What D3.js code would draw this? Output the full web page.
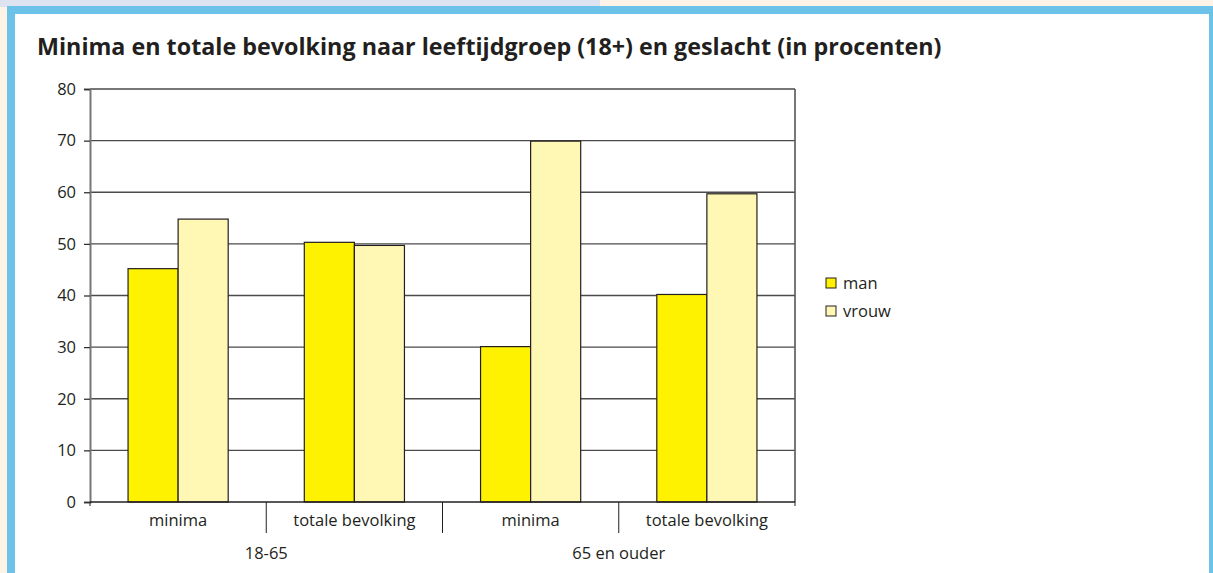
<!DOCTYPE html>
<html>
<head>
    <meta charset="utf-8">
    <title>Minima en totale bevolking</title>
    <script src="https://d3js.org/d3.v7.min.js"></script>
    <style>
        body { margin: 0; background: #fff; }
        text { font-family: "Open Sans", "Noto Sans", sans-serif; fill: #231f20; }
    </style>
</head>
<body>
    <svg width="1213" height="573" id="mainSvg"></svg>
    <script>
        // data
        const groups = ["18-65", "65 en ouder"];
        const subCats = ["minima", "totale bevolking"];
        const seriesKeys = ["man", "vrouw"];
        const manValues = [45.2, 50.3, 30.1, 40.2];
        const vrouwValues = [54.8, 49.7, 69.9, 59.7];
        const yTicks = [0, 10, 20, 30, 40, 50, 60, 70, 80];

        const colors = { man: "#fff200", vrouw: "#fff8b4" };

        const rows = [];
        groups.forEach((g, gi) => subCats.forEach((c, ci) => {
            const i = gi * subCats.length + ci;
            rows.push({ key: g + "|" + c, group: g, cat: c, man: manValues[i], vrouw: vrouwValues[i] });
        }));

        const svg = d3.select("#mainSvg");
        const labelSize = 16.5;

        // page frame
        svg.append("rect").attr("x", 0).attr("y", 0).attr("width", 1213).attr("height", 573).attr("fill", "#fdf3e7");
        svg.append("rect").attr("x", 0).attr("y", 0).attr("width", 600).attr("height", 7).attr("fill", "#dde3f1");
        svg.append("rect").attr("x", 7).attr("y", 6).attr("width", 1206).attr("height", 567).attr("fill", "#6dc2ea");
        svg.append("rect").attr("x", 15).attr("y", 14).attr("width", 1194).attr("height", 559).attr("fill", "#fff");

        svg.append("text")
            .attr("x", 37).attr("y", 55)
            .attr("font-size", 23.3).attr("font-weight", "bold")
            .text("Minima en totale bevolking naar leeftijdgroep (18+) en geslacht (in procenten)");

        const plot = { left: 90, right: 795, top: 89, bottom: 502 };

        const x = d3.scaleBand().domain(rows.map(d => d.key)).range([plot.left, plot.right]);
        const xSeries = d3.scaleBand().domain(seriesKeys).range([0, x.bandwidth()]).paddingInner(0).paddingOuter(0.76);
        const y = d3.scaleLinear().domain([0, 80]).range([plot.bottom, plot.top]);

        // gridlines
        svg.append("g").selectAll("line")
            .data(yTicks.filter(t => t > 0))
            .join("line")
            .attr("x1", plot.left).attr("x2", plot.right)
            .attr("y1", d => y(d)).attr("y2", d => y(d))
            .attr("stroke", "#4a4a4a").attr("stroke-width", 1.3);

        // right frame
        svg.append("line").attr("x1", plot.right).attr("x2", plot.right).attr("y1", plot.top).attr("y2", plot.bottom)
            .attr("stroke", "#555").attr("stroke-width", 1.6);

        // y axis
        const yAxis = svg.append("g")
            .attr("transform", `translate(${plot.left},0)`)
            .call(d3.axisLeft(y).tickValues(yTicks).tickSize(6).tickPadding(8));
        yAxis.select(".domain").attr("stroke", "#777").attr("stroke-width", 2);
        yAxis.selectAll(".tick line").attr("stroke", "#333").attr("stroke-width", 1.3);
        yAxis.selectAll(".tick text").attr("font-size", labelSize).attr("fill", "#231f20")
            .attr("font-family", "'Open Sans', 'Noto Sans', sans-serif");

        // bars
        svg.append("g").selectAll("g")
            .data(rows)
            .join("g")
            .attr("transform", d => `translate(${x(d.key)},0)`)
            .selectAll("rect")
            .data(d => seriesKeys.map(k => ({ k: k, v: d[k] })))
            .join("rect")
            .attr("x", d => xSeries(d.k))
            .attr("y", d => y(d.v))
            .attr("width", xSeries.bandwidth())
            .attr("height", d => plot.bottom - y(d.v))
            .attr("fill", d => colors[d.k])
            .attr("stroke", "#231f20").attr("stroke-width", 1.2);

        // x axis baseline
        svg.append("line").attr("x1", plot.left).attr("x2", plot.right).attr("y1", plot.bottom).attr("y2", plot.bottom)
            .attr("stroke", "#231f20").attr("stroke-width", 1.3);

        // category separators
        const edges = rows.map(d => x(d.key)).concat([plot.right]);
        svg.append("g").selectAll("line")
            .data(edges)
            .join("line")
            .attr("x1", d => d).attr("x2", d => d)
            .attr("y1", plot.bottom)
            .attr("y2", (d, i) => (i === 0 || i === edges.length - 1) ? plot.bottom + 4 : plot.bottom + 31)
            .attr("stroke", "#231f20").attr("stroke-width", 1);

        // category labels
        svg.append("g").selectAll("text")
            .data(rows)
            .join("text")
            .attr("x", d => x(d.key) + x.bandwidth() / 2)
            .attr("y", 526)
            .attr("text-anchor", "middle")
            .attr("font-size", labelSize)
            .text(d => d.cat);

        // group labels
        svg.append("g").selectAll("text")
            .data(groups)
            .join("text")
            .attr("x", g => {
                const ks = rows.filter(r => r.group === g);
                return (x(ks[0].key) + x(ks[ks.length - 1].key) + x.bandwidth()) / 2;
            })
            .attr("y", 559)
            .attr("text-anchor", "middle")
            .attr("font-size", labelSize)
            .text(g => g);

        // legend
        const legend = svg.append("g").attr("transform", "translate(826,278)");
        legend.selectAll("g")
            .data(seriesKeys)
            .join("g")
            .attr("transform", (d, i) => `translate(0,${i * 28})`)
            .each(function (d) {
                const g = d3.select(this);
                g.append("rect").attr("width", 10).attr("height", 10)
                    .attr("fill", colors[d]).attr("stroke", "#231f20").attr("stroke-width", 1);
                g.append("text").attr("x", 17).attr("y", 10.5).attr("font-size", labelSize).text(d);
            });
    </script>
</body>
</html>
